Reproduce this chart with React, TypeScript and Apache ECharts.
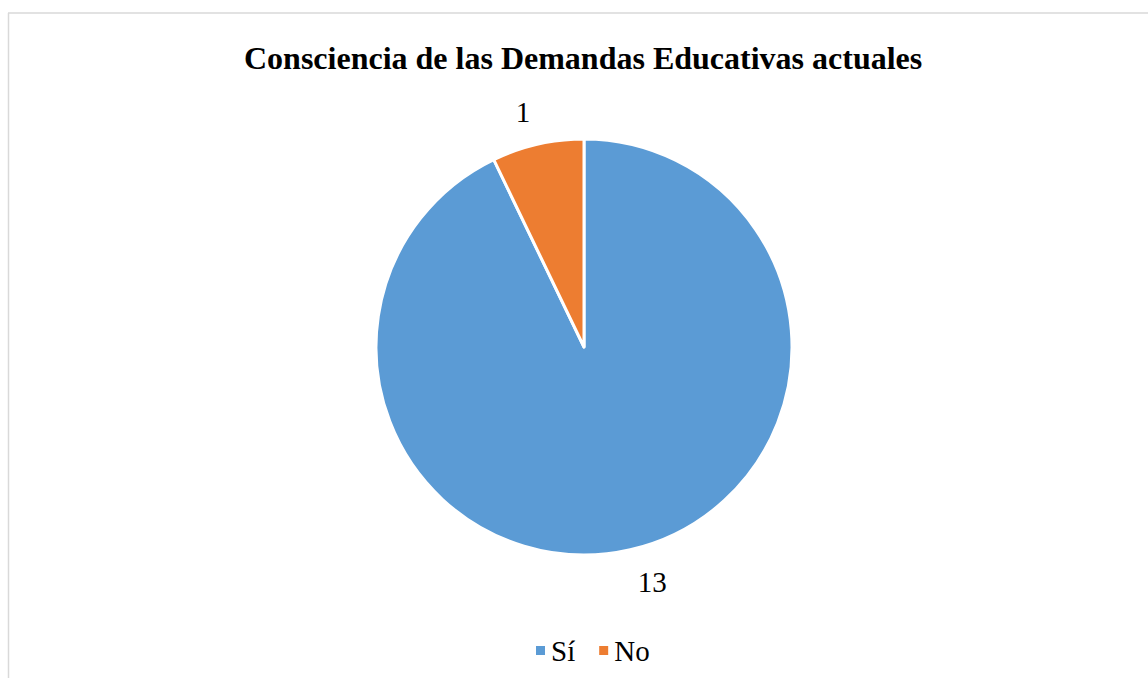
import React, { useEffect, useRef } from "react";
import * as echarts from "echarts";

const categories = ["Sí", "No"];
const values = [13, 1];
const colors = ["#5B9BD5", "#ED7D31"];
const titleText = "Consciencia de las Demandas Educativas actuales";

export default function App() {
  const ref = useRef<HTMLDivElement>(null);
  useEffect(() => {
    if (!ref.current) return;
    const chart = echarts.init(ref.current, null, { renderer: "svg" });
    const font = "'Liberation Serif', 'Times New Roman', serif";
    chart.setOption({
      animation: false,
      backgroundColor: "#ffffff",
      title: {
        text: titleText,
        left: 239,
        top: 37,
        textStyle: { fontFamily: font, fontSize: 32, fontWeight: "bold", color: "#000" },
      },
      legend: {
        data: categories,
        left: 529,
        top: 631,
        itemWidth: 11,
        itemHeight: 11,
        itemGap: 22,
        icon: "rect",
        textStyle: { fontFamily: font, fontSize: 29, color: "#000" },
      },
      graphic: [
        { type: "line", shape: { x1: 8, y1: 13, x2: 1148, y2: 13 }, style: { stroke: "#d9d9d9", lineWidth: 1.5 } },
        { type: "line", shape: { x1: 8.5, y1: 13, x2: 8.5, y2: 678 }, style: { stroke: "#d9d9d9", lineWidth: 1.5 } },
      ],
      series: [
        {
          type: "pie",
          center: [584, 347],
          radius: 208,
          startAngle: 90,
          clockwise: true,
          data: categories.map((c, i) => ({ name: c, value: values[i], itemStyle: { color: colors[i] } })),
          itemStyle: { borderColor: "#fff", borderWidth: 3 },
          label: {
            show: true,
            position: "outside",
            formatter: "{c}",
            fontFamily: font,
            fontSize: 29,
            color: "#000",
            distanceToLabelLine: 0,
          },
          labelLine: { show: false, length: 33, length2: 0 },
          emphasis: { disabled: true },
        },
      ],
    });
    return () => chart.dispose();
  }, []);
  return <div ref={ref} style={{ position: "fixed", left: 0, top: 0, width: 1148, height: 678 }} />;
}
